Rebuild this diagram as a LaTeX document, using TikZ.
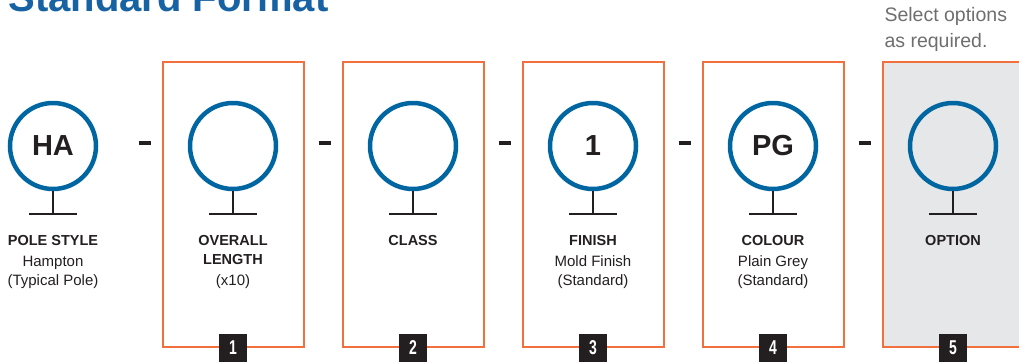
\documentclass[tikz,border=0pt]{standalone}
\usepackage{fontspec}
\setmainfont{Liberation Sans}
\usetikzlibrary{positioning}
\definecolor{ringblue}{RGB}{0,102,161}
\definecolor{titleblue}{RGB}{22,98,163}
\definecolor{frameorange}{RGB}{242,112,62}
\definecolor{optgrey}{RGB}{230,231,232}
\definecolor{inkblack}{RGB}{35,31,32}
\definecolor{notegrey}{RGB}{110,110,112}
\tikzset{
  ring/.style={circle,draw=ringblue,line width=4.5pt,minimum size=86pt,inner sep=0pt,
    font=\fontsize{29}{29}\selectfont\bfseries,text=inkblack},
  stand/.style={draw=inkblack,line width=2.2pt},
  frame/.style={draw=frameorange,line width=1.2pt},
  sep/.style={draw=inkblack,line width=4pt},
  head/.style={anchor=base,font=\fontsize{14.5}{14.5}\selectfont\bfseries,text=inkblack},
  sub/.style={anchor=base,font=\fontsize{15}{15}\selectfont,text=inkblack},
  numbox/.style={fill=inkblack,text=white,minimum size=28pt,inner sep=0pt,
    font=\fontsize{20}{20}\selectfont\bfseries},
  note/.style={anchor=base west,font=\fontsize{19.5}{19.5}\selectfont,text=notegrey}
}
\begin{document}
\begin{tikzpicture}[x=1pt,y=-1pt]
\useasboundingbox (0,0) rectangle (1019,362);
\clip (0,0) rectangle (1019,362);
% Titel
\node[anchor=base west,font=\fontsize{40}{40}\selectfont\bfseries,text=titleblue] (title) at (5,11) {Standard Format};
\node[note] (note1) at (881,21) {Select options};
\node[note] (note2) at (881,47) {as required.};
% Rahmen
\foreach \i in {0,...,3}
  \draw[frame] (163+180*\i,62) rectangle (304+180*\i,347);
\fill[optgrey] (883,62) rectangle (1030,347);
\draw[frame] (1030,62) -- (883,62) -- (883,347) -- (1030,347);
% Kreise mit Fuss
\foreach \t [count=\i from 0] in {HA,{},{},1,PG,{}} {
  \node[ring] (c\i) at (53+180*\i,146) {\t};
  \draw[stand] (c\i.south) -- ++(0,23) coordinate (b\i);
  \draw[stand] ([xshift=-24pt]b\i) -- ([xshift=24pt]b\i);
}
% Trennstriche
\foreach \i in {0,...,4}
  \draw[sep] (139+180*\i,143) -- (151+180*\i,143);
% Beschriftungen
\node[head] (h0) at (53,245) {POLE STYLE};
\node[sub] (s0a) at (53,266) {Hampton};
\node[sub] (s0b) at (53,285) {(Typical Pole)};
\node[head] (h1a) at (233,245) {OVERALL};
\node[head] (h1b) at (233,264) {LENGTH};
\node[sub] (s1) at (233,285) {(x10)};
\node[head] (h2) at (413,245) {CLASS};
\node[head] (h3) at (593,245) {FINISH};
\node[sub] (s3a) at (593,266) {Mold Finish};
\node[sub] (s3b) at (593,285) {(Standard)};
\node[head] (h4) at (773,245) {COLOUR};
\node[sub] (s4a) at (773,266) {Plain Grey};
\node[sub] (s4b) at (773,285) {(Standard)};
\node[head] (h5) at (953,245) {OPTION};
% Nummern
\foreach \n in {1,...,5}
  \node[numbox] (n\n) at (233+180*\n-180,348) {\scalebox{0.7}[1]{\n}};
\end{tikzpicture}
\end{document}
